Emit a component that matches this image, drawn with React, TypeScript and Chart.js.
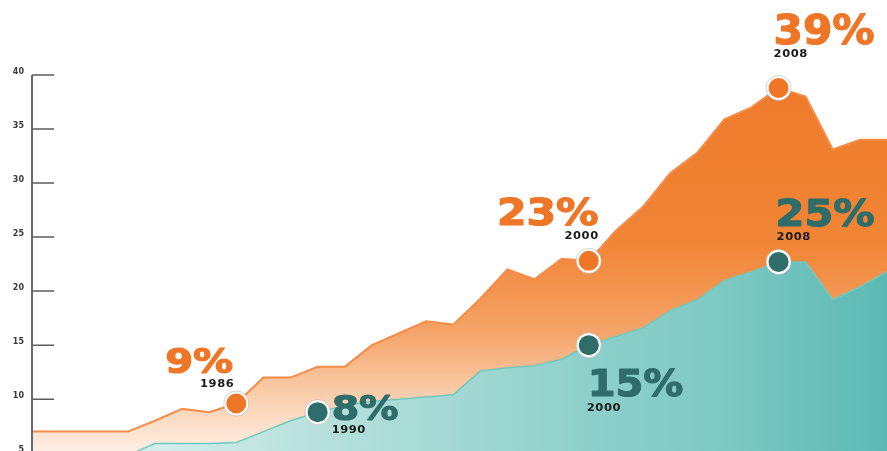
import React, { useEffect, useRef } from "react";
import { Chart, registerables } from "chart.js";

Chart.register(...registerables);

// x positions (years of the series)
const years = [
  1978, 1979, 1980, 1981, 1982, 1983, 1984, 1985, 1986, 1987, 1988,
  1989, 1990, 1991, 1992, 1993, 1994, 1995, 1996, 1997, 1998, 1999,
  2000, 2001, 2002, 2003, 2004, 2005, 2006, 2007, 2008, 2009, 2010,
];

const orangeValues = [
  7.0, 7.0, 7.0, 7.0, 7.0, 8.0, 9.1, 8.8, 9.6, 12.0, 12.0,
  13.0, 13.0, 15.0, 16.1, 17.2, 16.9, 19.3, 22.0, 21.1, 23.0, 22.8,
  25.6, 27.8, 30.9, 32.8, 35.9, 37.0, 38.8, 38.0, 33.1, 34.0, 34.0,
];

const tealValues = [
  4.0, 4.0, 4.0, 4.0, 4.8, 5.9, 5.9, 5.9, 6.0, 7.0, 8.0,
  8.8, 9.4, 9.8, 10.0, 10.2, 10.4, 12.6, 12.9, 13.1, 13.7, 15.0,
  15.8, 16.6, 18.2, 19.2, 21.0, 21.8, 22.7, 22.7, 19.2, 20.4, 21.8,
];

const yTicks = [5, 10, 15, 20, 25, 30, 35, 40];

// callouts: dataset, x-year of the marked point, big label, year label
const calloutSeries = ["orange", "teal", "orange", "teal", "orange", "teal"];
const calloutAt = [1986, 1989, 1999, 1999, 2006, 2006];
const calloutPct = ["9%", "8%", "23%", "15%", "39%", "25%"];
const calloutYear = ["1986", "1990", "2000", "2000", "2008", "2008"];

// styling of callouts (offsets relative to the point)
const calloutStyle = [
  { align: "right", dx: -3, pctDy: -30, yearDx: -2, yearDy: -19, size: 34, sx: 1.18 },
  { align: "left", dx: 14, pctDy: 8, yearDx: 14, yearDy: 18, size: 34, sx: 1.16 },
  { align: "right", dx: 10, pctDy: -36, yearDx: 10, yearDy: -24, size: 38, sx: 1.12 },
  { align: "left", dx: -1, pctDy: 51, yearDx: -2, yearDy: 63, size: 37, sx: 1.08 },
  { align: "left", dx: -5, pctDy: -44, yearDx: -5, yearDy: -34, size: 41, sx: 1.03 },
  { align: "left", dx: -3, pctDy: -36, yearDx: -2, yearDy: -25, size: 37, sx: 1.12 },
];

const ORANGE = "#ef7627";
const TEAL_DARK = "#2e6d69";

const overlay = {
  id: "overlay",
  afterDatasetsDraw(chart: any) {
    const { ctx, chartArea, scales } = chart;
    const y = scales.y;
    const left = chartArea.left;
    ctx.save();
    // axis line
    ctx.strokeStyle = "#6a6a6a";
    ctx.lineWidth = 2;
    ctx.beginPath();
    ctx.moveTo(left, chartArea.top);
    ctx.lineTo(left, chartArea.bottom);
    ctx.stroke();
    // tick marks drawn inward
    ctx.strokeStyle = "#5c5c5c";
    ctx.lineWidth = 1.5;
    ctx.beginPath();
    y.ticks.forEach((t: any) => {
      const py = y.getPixelForValue(t.value);
      ctx.moveTo(left, py);
      ctx.lineTo(left + 22, py);
    });
    ctx.stroke();

    // callouts
    calloutAt.forEach((at, i) => {
      const dsIndex = calloutSeries[i] === "teal" ? 0 : 1;
      const meta = chart.getDatasetMeta(dsIndex);
      const idx = years.indexOf(at);
      const el = meta.data[idx];
      if (!el) return;
      const px = el.x;
      const py = el.y;
      const st = calloutStyle[i];
      const color = calloutSeries[i] === "teal" ? TEAL_DARK : ORANGE;

      ctx.beginPath();
      ctx.arc(px, py, 12.5, 0, Math.PI * 2);
      ctx.fillStyle = "#ffffff";
      ctx.fill();
      ctx.strokeStyle = "rgba(180,180,180,0.6)";
      ctx.lineWidth = 1;
      ctx.stroke();
      ctx.beginPath();
      ctx.arc(px, py, 10, 0, Math.PI * 2);
      ctx.fillStyle = color;
      ctx.fill();

      // big percentage, horizontally stretched for an extended look
      ctx.save();
      ctx.translate(px + st.dx, py + st.pctDy);
      ctx.scale(st.sx, 1);
      ctx.textAlign = st.align;
      ctx.textBaseline = "alphabetic";
      ctx.fillStyle = color;
      ctx.strokeStyle = color;
      ctx.lineWidth = 1.2;
      ctx.lineJoin = "round";
      ctx.font = `bold ${st.size}px "DejaVu Sans"`;
      ctx.fillText(calloutPct[i], 0, 0);
      ctx.strokeText(calloutPct[i], 0, 0);
      ctx.restore();

      ctx.save();
      ctx.translate(px + st.yearDx, py + st.yearDy);
      ctx.scale(1.15, 1);
      ctx.textAlign = st.align;
      ctx.textBaseline = "middle";
      ctx.fillStyle = "#1b1b1b";
      ctx.font = `bold 10px "DejaVu Sans"`;
      (ctx as any).letterSpacing = "0.5px";
      ctx.fillText(calloutYear[i], 0, 0);
      ctx.restore();
    });
    ctx.restore();
  },
};

export default function App() {
  const ref = useRef<HTMLCanvasElement | null>(null);

  useEffect(() => {
    if (!ref.current) return;
    const orangeFill = (c: any) => {
      const ca = c.chart.chartArea;
      if (!ca) return "#f18536";
      const g = c.chart.ctx.createLinearGradient(0, ca.top, 0, ca.bottom);
      g.addColorStop(0, "#ee7a2a");
      g.addColorStop(0.45, "#f18536");
      g.addColorStop(0.68, "#f5a469");
      g.addColorStop(0.85, "#f9cfae");
      g.addColorStop(1, "#fdefe5");
      return g;
    };
    const tealFill = (c: any) => {
      const ca = c.chart.chartArea;
      if (!ca) return "#88ccc7";
      const g = c.chart.ctx.createLinearGradient(ca.left, 0, ca.right, 0);
      g.addColorStop(0, "#e6f4f2");
      g.addColorStop(0.15, "#d3edea");
      g.addColorStop(0.33, "#b8e1dd");
      g.addColorStop(0.66, "#8dcfca");
      g.addColorStop(0.8, "#7fc9c3");
      g.addColorStop(1, "#5cb9b4");
      return g;
    };

    const chart = new Chart(ref.current, {
      type: "line",
      data: {
        datasets: [
          {
            label: "teal",
            data: years.map((yr, i) => ({ x: yr, y: tealValues[i] })),
            borderColor: "#72c8c0",
            borderWidth: 1.5,
            backgroundColor: tealFill,
            fill: "start",
            pointRadius: 0,
            tension: 0,
            clip: 0,
          },
          {
            label: "orange",
            data: years.map((yr, i) => ({ x: yr, y: orangeValues[i] })),
            borderColor: "#f58c4a",
            borderWidth: 2,
            backgroundColor: orangeFill,
            fill: "start",
            pointRadius: 0,
            tension: 0,
            clip: 0,
          },
        ],
      },
      options: {
        animation: false,
        responsive: false,
        devicePixelRatio: 1,
        layout: { padding: { top: 75, bottom: 7, left: 0, right: 0 } },
        plugins: {
          legend: { display: false },
          tooltip: { enabled: false },
        },
        scales: {
          x: {
            type: "linear",
            display: false,
            min: 1978.465,
            max: 2010,
          },
          y: {
            min: 5,
            max: 40,
            afterFit: (s: any) => {
              s.width = 32;
            },
            afterBuildTicks: (s: any) => {
              s.ticks = yTicks.map((v) => ({ value: v }));
            },
            grid: { display: false, drawTicks: false },
            border: { display: false },
            ticks: {
              padding: 8,
              labelOffset: -3,
              color: "#3a3a3a",
              font: { family: "DejaVu Sans", size: 8, weight: "bold" },
            },
          },
        },
      },
      plugins: [overlay],
    });
    return () => chart.destroy();
  }, []);

  return (
    <div
      style={{
        position: "absolute",
        left: 0,
        top: 0,
        width: 887,
        height: 451,
        overflow: "hidden",
        background: "#ffffff",
      }}
    >
      <canvas ref={ref} width={887} height={466} style={{ display: "block" }} />
    </div>
  );
}
